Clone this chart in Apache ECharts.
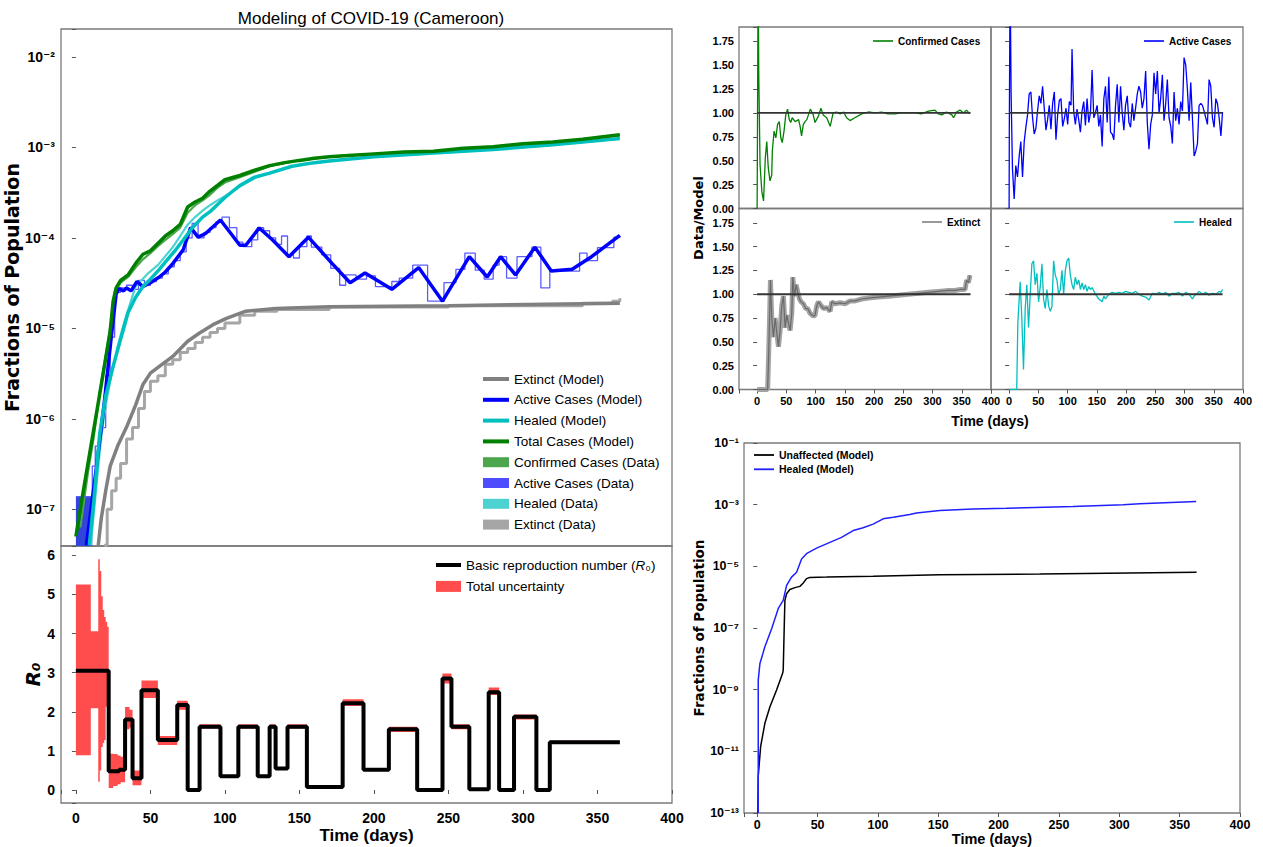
<!DOCTYPE html>
<html>
<head>
<meta charset="utf-8">
<script src="https://cdn.jsdelivr.net/npm/echarts@6.0.0/dist/echarts.min.js"></script>
<style>html,body{margin:0;padding:0;background:#fff}#c{width:1263px;height:847px}</style>
</head>
<body>
<div id="c"></div>
<script>
// ===================== DATA =====================
// --- Main panel: fractions of population (log scale) ---
const totalModelDays = [0,5,10,15,20,23,25,27,30,35,40,45,50,55,60,65,70,75,80,85,90,95,100,110,120,130,140,150,160,170,180,200,220,240,260,280,300,320,340,365];
const totalModelVals = [5.0e-8,1.6e-7,4.9e-7,1.5e-6,4.7e-6,9.3e-6,2.0e-5,2.8e-5,3.4e-5,3.9e-5,5.2e-5,6.6e-5,7.2e-5,8.7e-5,1.05e-4,1.2e-4,1.41e-4,2.2e-4,2.5e-4,2.75e-4,3.3e-4,3.8e-4,4.4e-4,4.9e-4,5.6e-4,6.3e-4,6.8e-4,7.2e-4,7.6e-4,7.9e-4,8.1e-4,8.5e-4,8.9e-4,9.1e-4,9.8e-4,1.02e-3,1.10e-3,1.15e-3,1.23e-3,1.38e-3];

const healedModelDays = [9,12,16,20,25,30,35,40,45,50,56,60,67,72,78,85,90,100,110,120,130,145,160,170,200,240,280,320,365];
const healedModelVals = [4.0e-8,1.23e-7,6.9e-7,1.8e-6,3.8e-6,7.6e-6,1.5e-5,2.2e-5,2.9e-5,3.5e-5,4.5e-5,5.4e-5,7.4e-5,9.5e-5,1.29e-4,1.7e-4,1.95e-4,2.8e-4,3.8e-4,4.7e-4,5.2e-4,6.2e-4,6.8e-4,7.1e-4,7.9e-4,8.7e-4,9.5e-4,1.07e-3,1.26e-3];

const activeModelDays = [7,10,14,19,24,27,29,32,34,37,41,45,50,56,60,65,72,77,82,87,97,104,110,114,123,132,143,156,172,184,194,212,230,246,264,276,285,295,308,319,333,346,365];
const activeModelVals = [4.0e-8,9.5e-8,3.1e-7,1.48e-6,8.9e-6,2.4e-5,2.75e-5,2.6e-5,2.8e-5,2.6e-5,3.3e-5,2.9e-5,3.2e-5,3.7e-5,4.2e-5,5.2e-5,7.4e-5,1.3e-4,1.02e-4,1.12e-4,1.58e-4,1.12e-4,8.3e-5,8.3e-5,1.29e-4,9.5e-5,6.2e-5,1.02e-4,5.2e-5,3.2e-5,4.1e-5,2.7e-5,4.7e-5,2.0e-5,6.2e-5,3.7e-5,6.2e-5,3.9e-5,7.9e-5,4.3e-5,4.5e-5,6.2e-5,1.07e-4];

const extinctModelDays = [15,17,20,23,28,34,40,45,50,56,65,75,83,92,101,114,134,170,250,365];
const extinctModelVals = [4.0e-8,7.9e-8,1.6e-7,3.0e-7,5.0e-7,8.1e-7,1.41e-6,2.4e-6,3.2e-6,3.8e-6,4.9e-6,7.2e-6,8.9e-6,1.1e-5,1.29e-5,1.55e-5,1.66e-5,1.74e-5,1.78e-5,1.9e-5];

const confirmedDataDays = [3,8,12,16,20,24,26,30,35,40,45,50,55,60,65,70,75,80,85,90,95,100,110,120,130,140,150,170,200,240,280,320,365];
const confirmedDataVals = [6.3e-8,2.5e-7,6.3e-7,2.0e-6,5.0e-6,1.3e-5,2.5e-5,3.2e-5,3.7e-5,4.7e-5,5.8e-5,6.8e-5,8.1e-5,9.5e-5,1.1e-4,1.3e-4,1.9e-4,2.3e-4,2.6e-4,3.0e-4,3.6e-4,4.1e-4,4.7e-4,5.4e-4,6.2e-4,6.7e-4,7.2e-4,7.9e-4,8.5e-4,9.1e-4,1.02e-3,1.15e-3,1.36e-3];

const healedDataDays = [10,14,17,20,24,28,32,36,40,44,48,55,60,65,70,75,80,85,90,95,100,110,120,130,145,170,200,240,280,320,365];
const healedDataVals = [4.0e-8,2.0e-7,6.3e-7,1.4e-6,3.2e-6,6.3e-6,1.1e-5,1.8e-5,2.9e-5,3.4e-5,4.0e-5,5.0e-5,6.3e-5,7.9e-5,1.05e-4,1.4e-4,1.7e-4,2.0e-4,2.3e-4,2.6e-4,2.9e-4,3.7e-4,4.6e-4,5.2e-4,6.2e-4,7.1e-4,7.9e-4,8.7e-4,9.5e-4,1.07e-3,1.25e-3];

const activeDataDays = [0,11,13,16,20,23,26,30,34,38,42,46,50,54,58,62,66,70,74,78,82,86,90,94,98,103,108,112,118,122,126,130,134,138,142,146,150,155,158,165,171,177,181,188,195,201,212,217,226,236,247,255,261,268,274,280,284,289,296,306,312,318,338,343,350,361,365];
const activeDataVals = [1.38e-7,3.0e-7,5.0e-7,8.0e-7,3.0e-6,8.0e-6,2.5e-5,2.8e-5,3.0e-5,2.7e-5,3.4e-5,3.0e-5,3.3e-5,3.6e-5,4.0e-5,4.8e-5,5.6e-5,7.0e-5,1.0e-4,1.45e-4,1.0e-4,1.15e-4,1.3e-4,1.5e-4,1.7e-4,1.3e-4,9.0e-5,8.0e-5,9.5e-5,1.3e-4,1.2e-4,1.0e-4,8.5e-5,1.05e-4,6.5e-5,6.0e-5,8.0e-5,1.05e-4,7.9e-5,6.5e-5,4.6e-5,3.0e-5,3.9e-5,3.5e-5,3.8e-5,2.9e-5,3.3e-5,3.6e-5,5.0e-5,2.0e-5,3.2e-5,4.5e-5,6.8e-5,4.4e-5,3.5e-5,5.0e-5,6.2e-5,3.6e-5,6.2e-5,7.9e-5,2.8e-5,4.3e-5,6.8e-5,5.6e-5,7.8e-5,1.02e-4,1.05e-4];
// early wide band of the active-cases data (drawn down to the axis)
const activeBlockDays = [0,11];
const activeBlockVals = [1.38e-7,1.38e-7];

const extinctDataDays = [19,21,24,27,30,34,38,42,46,50,55,60,65,70,75,80,85,90,95,100,110,120,135,170,250,340,360,365];
const extinctDataVals = [4.0e-8,1.0e-7,1.6e-7,2.2e-7,3.2e-7,6.0e-7,8.0e-7,1.3e-6,2.0e-6,2.6e-6,3.0e-6,4.0e-6,4.5e-6,5.4e-6,6.0e-6,7.0e-6,8.0e-6,9.0e-6,1.0e-5,1.15e-5,1.4e-5,1.55e-5,1.62e-5,1.72e-5,1.78e-5,1.9e-5,2.0e-5,2.15e-5];

// --- R0 panel ---
const r0StartDays = [0,22,29,33,38,44,55,68,75,83,97,109,122,130,134,142,155,179,193,210,229,246,252,264,277,284,294,309,318,365];
const r0Levels    = [3.05,0.48,0.52,1.80,0.30,2.55,1.28,2.17,0.0,1.62,0.35,1.62,0.35,1.62,0.55,1.62,0.08,2.22,0.52,1.55,0.0,2.85,1.62,0.02,2.50,0.0,1.87,0.0,1.22,1.22];
const bandDays = [0,10,15,16,17,18,19,20,21,22,25,28,30,33,36,38,44,55,68,75,83,97,109,122,130,134,142,155,179,193,210,229,246,252,264,277,284,294,309,318,365];
const bandLow  = [0.89,2.09,0.21,0.5,1.1,1.2,1.28,2.13,2.3,0.05,0.1,0.15,0.2,1.55,1.6,0.12,2.35,1.15,2.05,-0.04,1.57,0.32,1.57,0.32,1.57,0.52,1.57,0.06,2.15,0.49,1.48,-0.02,2.72,1.55,-0.01,2.43,-0.02,1.80,-0.02,1.19,1.19];
const bandHigh = [5.25,4.06,5.90,5.6,4.95,4.6,4.42,4.3,4.17,0.93,0.92,0.88,0.85,2.12,2.05,0.5,2.8,1.38,2.28,0.04,1.68,0.38,1.68,0.38,1.68,0.58,1.68,0.1,2.32,0.55,1.62,0.02,2.98,1.68,0.04,2.62,0.02,1.93,0.02,1.26,1.26];

// --- Data/Model ratio panels ---
const refDays = [0,365];
const refVals = [1,1];
const confirmedRatioDays = [0,0.6,1.7,2.8,5,8,11,14,16.5,19,22,25,26,29,32,35,38,40.5,43,46,49,52,55,57.5,60,65,71,73.5,76,79,82,85,91,96,99,105,109,113,119,125,130,136,142,148,153,159,167,179,190,202,213,224,236,247,259,270,281,293,304,310,316,324,333,336,341,347,353,358,364];
const confirmedRatioVals = [0,0.81,2.5,1.4,0.46,0.18,0.08,0.53,0.70,0.43,0.29,0.35,0.60,0.81,0.74,0.88,0.91,0.74,0.69,0.81,0.98,1.04,0.93,0.90,0.95,0.91,0.93,0.86,0.76,0.88,0.91,0.93,1.04,0.98,0.90,0.97,1.05,0.98,0.95,0.86,1.00,1.01,0.99,1.01,0.95,0.92,0.95,0.99,1.01,1.00,1.01,0.99,0.99,1.00,1.00,1.00,0.99,1.02,1.03,0.99,0.98,1.01,0.98,0.95,1.01,1.03,1.00,1.03,0.99];

const activeRatioDays = [0,0.3,1.7,3.4,5.7,8.6,11.4,14.3,17.2,20,22.9,25.8,28.6,31.5,34.3,37.2,40.1,42.9,45.8,48.6,51.5,54.4,57.2,60.1,63,65.8,68.7,71.5,74.4,77.3,80.1,83,85.8,88.7,91.6,94.4,97.3,100.1,103,105.9,107.6,110.4,113.3,116.2,119,121.9,124.7,127.6,130.5,133.3,136.2,139.1,141.9,144.8,147.6,150.5,153.4,156.2,159.1,162,164.8,167.7,170.5,173.4,176.3,179.1,182,184.8,187.7,190.6,193.4,196.3,199.1,202,204.9,207.7,210.6,213.4,216.3,219.2,222,224.9,227.7,230.6,233.5,236.3,239.2,242.1,244.9,247.8,250.6,253.5,256.4,259.2,262.1,264.9,267.8,270.6,273.5,276.4,279.2,282.1,284.9,287.8,290.6,293.5,296.4,299.2,302.1,304.9,307.8,310.6,313.5,316.4,319.2,322.1,324.9,327.8,330.6,333.5,336.3,339.2,342,344.9,347.7,350.6,353.5,356.3,359.2,362.2,365];
const activeRatioVals = [0,0.81,2.5,1.2,0.42,0.10,0.45,0.33,0.55,0.70,0.33,0.7,0.85,0.98,1.20,1.22,0.95,0.78,0.84,1.02,1.18,1.1,1.28,1.05,0.82,0.93,1.08,0.83,1.1,1.22,0.72,0.98,1.13,1.15,0.86,0.94,1.05,0.88,1.12,1.08,1.67,1.02,0.88,1.04,0.93,0.80,1.02,1.12,0.87,1.15,0.9,1.0,1.45,0.95,1.0,1.08,0.86,0.98,0.65,1.15,1.28,0.9,1.38,0.8,0.78,0.72,1.08,1.30,0.90,1.28,1.0,0.82,1.08,1.18,0.9,0.85,1.1,0.92,1.05,1.2,1.28,1.22,1.05,1.15,1.44,0.9,0.62,0.88,0.98,1.42,1.2,1.44,1.0,1.15,1.4,0.92,1.1,1.35,0.95,0.86,0.68,1.22,0.92,1.05,0.88,1.12,1.02,1.58,1.5,1.25,0.92,1.32,0.95,0.55,0.60,0.68,1.08,1.10,1.08,1.02,0.95,0.88,1.35,1.28,0.95,0.85,1.15,1.1,0.95,0.76,1.01];

const extinctRatioDays = [0,18,19.4,21,22.8,25,27.9,30.8,33.6,36.5,39.3,42.2,45,47.9,50.7,53.6,56.4,59.3,61,63.8,66.7,69.5,72.4,75.2,79.2,83.2,86.6,90.6,96.3,99.1,102,104.8,109.4,113.4,119.1,124.8,127.6,133.3,141.9,150.4,159,167.5,178.9,190.3,207.4,224.5,241.6,258.7,275.8,292.9,310,327.1,338.5,347,355.6,358.4,361.3,364.1];
const extinctRatioVals = [0,0,0.3,0.68,1.15,0.75,0.55,0.75,0.6,0.45,0.62,0.88,0.98,0.65,0.78,0.70,0.62,0.8,1.18,0.98,1.10,1.02,0.95,0.92,0.9,0.85,0.85,0.80,0.77,0.78,0.88,0.92,0.88,0.85,0.86,0.82,0.92,0.90,0.91,0.90,0.93,0.93,0.95,0.96,0.97,0.98,0.99,1.00,1.01,1.02,1.03,1.04,1.04,1.05,1.05,1.15,1.12,1.20];

const healedRatioDays = [0,13,14.9,18.9,21.7,24.6,27.5,30.3,33.2,36.1,38.9,41.8,44.6,47.5,50.4,53.2,56.1,58.9,61.8,64.7,67.5,70.4,73.2,76.1,78.9,81.8,84.6,87.5,90.3,93.2,96.1,98.9,101.9,104.7,107.6,110.4,113.3,116.2,119,121.9,124.7,127.6,130.5,133.3,136.2,139,141.9,147.6,153.4,159.1,162,164.8,170.5,176.3,182,187.7,193.4,199.1,204.9,210.6,216.3,222,227.7,233.5,239.2,244.9,250.6,256.4,262.1,267.8,273.5,279.2,284.9,290.6,296.4,302.1,307.8,313.5,316.4,324.9,330.6,336.3,342,347.7,353.5,359.2,362.2,365];
const healedRatioVals = [0,0,0.7,1.13,0.75,0.21,0.85,1.1,0.65,1.0,1.32,1.35,1.1,1.22,0.92,1.08,1.32,0.95,0.85,1.05,0.88,0.82,0.87,1.35,1.2,1.15,1.0,1.05,1.25,1.0,1.25,1.35,1.38,1.2,1.1,1.05,1.18,1.1,1.15,1.05,1.12,1.05,1.1,1.03,1.08,1.05,1.07,1.0,0.95,0.92,0.98,0.95,1.0,1.02,1.01,1.02,1.01,1.03,1.02,1.01,1.03,1.0,0.98,0.97,0.94,1.01,1.0,1.02,1.0,1.02,0.98,1.01,1.01,1.02,0.98,1.02,1.0,0.95,0.98,1.03,1.0,1.02,0.99,1.01,1.0,1.03,1.02,1.05];

// --- Bottom-right panel (log scale) ---
const unaffectedDays = [0.5,0.8,2.8,6.3,10.5,16,21,21.5,22.4,22.9,24.3,27,31.2,35.3,38.1,40.8,43.6,57.4,96,151,234,364];
const unaffectedVals = [1e-13,1.55e-12,1.45e-11,8.1e-11,2.8e-10,9.8e-10,3.4e-9,4.3e-9,1.38e-7,7.9e-7,1.29e-6,1.78e-6,2.04e-6,2.24e-6,2.88e-6,3.98e-6,4.37e-6,4.47e-6,4.79e-6,5.37e-6,5.62e-6,6.46e-6];
const healedBRDays = [0.8,0.8,2.2,6.3,11.9,17.4,21.5,24.3,28.4,32.6,36.7,40.8,49.1,60.2,69.8,79.5,87.7,96,104.3,112.6,126.4,131.9,151.2,178.8,206.4,261.6,303,316.8,363.7];
const healedBRVals = [1e-13,2.04e-9,7.1e-9,2.45e-8,9.5e-8,4.3e-7,7.9e-7,2.4e-6,4.47e-6,6.46e-6,1.74e-5,2.57e-5,3.9e-5,6.0e-5,8.7e-5,1.45e-4,1.78e-4,2.34e-4,3.47e-4,3.9e-4,4.8e-4,5.4e-4,6.5e-4,7.2e-4,7.6e-4,8.7e-4,1.0e-3,1.07e-3,1.26e-3];

// ===================== HELPERS =====================
const FONT = "'Liberation Sans', Arial, 'DejaVu Sans', sans-serif";
const FONT_DV = "'DejaVu Sans', sans-serif";
const zip = (xs, ys) => xs.map((x, i) => [x, ys[i]]);
const zipLog = (xs, ys) => xs.map((x, i) => [x, Math.log10(ys[i])]);   // bottom-right panel uses an exponent axis
const SUP = {'-':'\u207B','0':'\u2070','1':'\u00B9','2':'\u00B2','3':'\u00B3','4':'\u2074','5':'\u2075','6':'\u2076','7':'\u2077','8':'\u2078','9':'\u2079'};
const pow10 = e => '10' + String(e).split('').map(c => SUP[c]).join('');
const logFmt = v => { const e = Math.log10(v); const r = Math.round(e); return Math.abs(e - r) < 1e-6 ? pow10(r) : ''; };
const xFmt = v => (v >= 0 && Math.abs(v % 50) < 1e-9) ? String(v) : '';
const ratioFmt = v => (v <= 1.76 ? v.toFixed(2) : '');
const intFmt = v => (Math.abs(v - Math.round(v)) < 1e-9 ? String(Math.round(v)) : '');

const tick = {show: true, inside: false, length: 4, lineStyle: {color: '#555', width: 1}};
const noTick = {show: false};
const lbl = (size, extra) => Object.assign({show: true, color: '#000', fontFamily: FONT, fontWeight: 'bold', fontSize: size}, extra || {});
const bareAxis = {axisLine: {show: false}, splitLine: {show: false}};

const COL = {
  extinct: '#808080', active: '#0000ff', healed: '#00bfbf', total: '#008000',
  dConfirmed: '#4da64d', dActive: '#5c5cff', dHealed: '#4dd2d2', dExtinct: '#a6a6a6',
  band: '#ff4d4d', brHealed: '#1f1fff'
};

function line(name, idx, data, color, width, extra) {
  return Object.assign({
    type: 'line', name: name, xAxisIndex: idx, yAxisIndex: idx, data: data,
    symbol: 'none', showSymbol: false, animation: false, silent: true,
    lineStyle: {color: color, width: width}, itemStyle: {color: color}, z: 3
  }, extra || {});
}

const gridBase = {show: true, borderColor: '#7a7a7a', borderWidth: 1.3, backgroundColor: 'transparent', containLabel: false, outerBoundsMode: 'none'};
const grids = [
  {left: 61, top: 29, width: 611, height: 517},
  {left: 61, top: 546, width: 611, height: 257},
  {left: 739, top: 27, width: 252, height: 181.5},
  {left: 991, top: 27, width: 252, height: 181.5},
  {left: 739, top: 208.5, width: 252, height: 181},
  {left: 991, top: 208.5, width: 252, height: 181},
  {left: 744, top: 443, width: 496, height: 370}
].map(g => Object.assign({}, gridBase, g));

const lineIcon = (w, h) => 'path://M0,0H' + w + 'V' + h + 'H0Z';

// band segments for the R0 uncertainty: [start day, end day, low, high]
const bandSegments = bandDays.slice(0, -1).map((d, i) => [d, bandDays[i + 1], bandLow[i], bandHigh[i]]);

const option = {
  animation: false,
  backgroundColor: '#fff',
  title: {
    text: 'Modeling of COVID-19 (Cameroon)', left: 366, top: 5, textAlign: 'center',
    textStyle: {fontFamily: FONT, fontWeight: 'normal', fontSize: 17, color: '#000'}
  },
  grid: grids,
  xAxis: [
    Object.assign({gridIndex: 0, type: 'value', min: -10, max: 400, splitNumber: 8, axisTick: noTick, axisLabel: {show: false}}, bareAxis),
    Object.assign({gridIndex: 1, type: 'value', min: -10, max: 400, splitNumber: 8, axisTick: tick,
      axisLabel: lbl(14, {margin: 8, formatter: xFmt}),
      name: 'Time (days)', nameLocation: 'middle', nameGap: 24,
      nameTextStyle: {fontFamily: FONT, fontWeight: 'bold', fontSize: 17, color: '#000'}}, bareAxis),
    Object.assign({gridIndex: 2, type: 'value', min: -31, max: 400, splitNumber: 8, axisTick: noTick, axisLabel: {show: false}}, bareAxis),
    Object.assign({gridIndex: 3, type: 'value', min: -31, max: 400, splitNumber: 8, axisTick: noTick, axisLabel: {show: false}}, bareAxis),
    Object.assign({gridIndex: 4, type: 'value', min: -31, max: 400, splitNumber: 8, axisTick: tick, axisLabel: lbl(11, {margin: 6, formatter: xFmt})}, bareAxis),
    Object.assign({gridIndex: 5, type: 'value', min: -31, max: 400, splitNumber: 8, axisTick: tick, axisLabel: lbl(11, {margin: 6, formatter: xFmt})}, bareAxis),
    Object.assign({gridIndex: 6, type: 'value', min: -11, max: 400, splitNumber: 8, axisTick: tick,
      axisLabel: lbl(12.5, {margin: 5, formatter: xFmt}),
      name: 'Time (days)', nameLocation: 'middle', nameGap: 14,
      nameTextStyle: {fontFamily: FONT, fontWeight: 'bold', fontSize: 14.5, color: '#000'}}, bareAxis)
  ],
  yAxis: [
    Object.assign({gridIndex: 0, type: 'log', logBase: 10, min: 3.926e-8, max: 0.02042, axisTick: tick,
      axisLabel: lbl(14, {margin: 6, formatter: logFmt}),
      name: 'Fractions of Population', nameLocation: 'middle', nameRotate: 90, nameGap: 29,
      nameTextStyle: {fontFamily: FONT_DV, fontWeight: 'bold', fontSize: 19, color: '#000'}}, bareAxis),
    Object.assign({gridIndex: 1, type: 'value', min: -0.332, max: 6.237, splitNumber: 6, axisTick: tick,
      axisLabel: lbl(14, {margin: 6, formatter: intFmt}),
      name: 'R\u2080', nameLocation: 'middle', nameRotate: 90, nameGap: 18,
      nameTextStyle: {fontFamily: FONT_DV, fontWeight: 'bold', fontStyle: 'italic', fontSize: 20, color: '#000'}}, bareAxis),
    Object.assign({gridIndex: 2, type: 'value', min: 0, max: 1.9, interval: 0.25, axisTick: tick, axisLabel: lbl(11, {margin: 5, formatter: ratioFmt})}, bareAxis),
    Object.assign({gridIndex: 3, type: 'value', min: 0, max: 1.9, interval: 0.25, axisTick: tick, axisLabel: {show: false}}, bareAxis),
    Object.assign({gridIndex: 4, type: 'value', min: 0, max: 1.9, interval: 0.25, axisTick: tick, axisLabel: lbl(11, {margin: 5, formatter: ratioFmt})}, bareAxis),
    Object.assign({gridIndex: 5, type: 'value', min: 0, max: 1.9, interval: 0.25, axisTick: tick, axisLabel: {show: false}}, bareAxis),
    Object.assign({gridIndex: 6, type: 'value', min: -13, max: -1, interval: 2, axisTick: tick,
      axisLabel: lbl(12.5, {margin: 5, formatter: v => pow10(Math.round(v))}),
      name: 'Fractions of Population', nameLocation: 'middle', nameRotate: 90, nameGap: 38,
      nameTextStyle: {fontFamily: FONT_DV, fontWeight: 'bold', fontSize: 13.5, color: '#000'}}, bareAxis)
  ],
  legend: [
    {
      left: 483, top: 372, orient: 'vertical', padding: 0, itemWidth: 26, itemHeight: 10, itemGap: 6.8, selectedMode: false,
      textStyle: {fontFamily: FONT, fontSize: 13.5, color: '#000', lineHeight: 14},
      data: [
        {name: 'Extinct (Model)', icon: lineIcon(26, 4)},
        {name: 'Active Cases (Model)', icon: lineIcon(26, 4)},
        {name: 'Healed (Model)', icon: lineIcon(26, 4)},
        {name: 'Total Cases (Model)', icon: lineIcon(26, 4)},
        {name: 'Confirmed Cases (Data)', icon: 'rect'},
        {name: 'Active Cases (Data)', icon: 'rect', itemStyle: {color: '#4d4dff'}},
        {name: 'Healed (Data)', icon: 'rect'},
        {name: 'Extinct (Data)', icon: 'rect'}
      ]
    },
    {
      left: 436, top: 558, orient: 'vertical', padding: 0, itemWidth: 25, itemHeight: 11, itemGap: 7.4, selectedMode: false,
      textStyle: {fontFamily: FONT, fontSize: 13.5, color: '#000', lineHeight: 14,
        rich: {n: {fontFamily: FONT, fontSize: 13.5, color: '#000'}, i: {fontFamily: FONT, fontSize: 13.5, fontStyle: 'italic', color: '#000'}}},
      formatter: n => n.indexOf('Basic') === 0 ? '{n|Basic reproduction number (}{i|R}{n|\u2080)}' : '{n|' + n + '}',
      data: [
        {name: 'Basic reproduction number (R\u2080)', icon: lineIcon(25, 4)},
        {name: 'Total uncertainty', icon: 'rect', itemStyle: {color: COL.band}}
      ]
    },
    {left: 873, top: 36, padding: 0, itemWidth: 20, itemHeight: 10, selectedMode: false,
      textStyle: {fontFamily: FONT, fontWeight: 'bold', fontSize: 10, color: '#000'},
      data: [{name: 'Confirmed Cases', icon: lineIcon(20, 1.6)}]},
    {left: 1144, top: 36, padding: 0, itemWidth: 20, itemHeight: 10, selectedMode: false,
      textStyle: {fontFamily: FONT, fontWeight: 'bold', fontSize: 10, color: '#000'},
      data: [{name: 'Active Cases', icon: lineIcon(20, 1.6)}]},
    {left: 922, top: 217, padding: 0, itemWidth: 20, itemHeight: 10, selectedMode: false,
      textStyle: {fontFamily: FONT, fontWeight: 'bold', fontSize: 10, color: '#000'},
      data: [{name: 'Extinct', icon: lineIcon(20, 1.6)}]},
    {left: 1174, top: 217, padding: 0, itemWidth: 20, itemHeight: 10, selectedMode: false,
      textStyle: {fontFamily: FONT, fontWeight: 'bold', fontSize: 10, color: '#000'},
      data: [{name: 'Healed', icon: lineIcon(20, 1.6)}]},
    {left: 754, top: 449.5, orient: 'vertical', padding: 0, itemWidth: 20, itemHeight: 10, itemGap: 3.3, selectedMode: false,
      textStyle: {fontFamily: FONT, fontWeight: 'bold', fontSize: 10.5, color: '#000'},
      data: [
        {name: 'Unaffected (Model)', icon: lineIcon(20, 1.8)},
        {name: 'Healed (Model)', icon: lineIcon(20, 1.8), itemStyle: {color: COL.brHealed}}
      ]}
  ],
  graphic: [
    {type: 'text', x: 698, y: 218, rotation: Math.PI / 2,
      style: {text: 'Data/Model', fontFamily: FONT_DV, fontWeight: 'bold', fontSize: 13, fill: '#000', align: 'center', verticalAlign: 'middle'}},
    {type: 'text', x: 990, y: 421,
      style: {text: 'Time (days)', fontFamily: FONT, fontWeight: 'bold', fontSize: 14, fill: '#000', align: 'center', verticalAlign: 'middle'}}
  ],
  series: [
    // ---- main panel: data (below) ----
    line('Confirmed Cases (Data)', 0, zip(confirmedDataDays, confirmedDataVals), COL.dConfirmed, 2.2, {z: 2}),
    line('Active Cases (Data)', 0, zip(activeBlockDays, activeBlockVals), '#3344dd', 0,
      {step: 'end', z: 2, areaStyle: {color: '#3344dd', opacity: 1, origin: 'start'}}),
    line('Active Cases (Data)', 0, zip(activeDataDays, activeDataVals), COL.dActive, 1.3, {step: 'end', z: 2}),
    line('Healed (Data)', 0, zip(healedDataDays, healedDataVals), COL.dHealed, 2.2, {z: 2}),
    line('Extinct (Data)', 0, zip(extinctDataDays, extinctDataVals), COL.dExtinct, 3, {step: 'end', z: 2}),
    // ---- main panel: model ----
    line('Extinct (Model)', 0, zip(extinctModelDays, extinctModelVals), COL.extinct, 3.5),
    line('Active Cases (Model)', 0, zip(activeModelDays, activeModelVals), COL.active, 3.5),
    line('Healed (Model)', 0, zip(healedModelDays, healedModelVals), COL.healed, 3.5),
    line('Total Cases (Model)', 0, zip(totalModelDays, totalModelVals), COL.total, 3.5),
    // ---- R0 panel: uncertainty band as one step polygon ----
    {
      type: 'custom', name: 'Total uncertainty', xAxisIndex: 1, yAxisIndex: 1, z: 2, silent: true, animation: false,
      itemStyle: {color: COL.band},
      data: bandSegments,
      encode: {x: [0, 1], y: [2, 3]},
      renderItem: (params, api) => {
        if (params.dataIndex !== 0) return null;
        const up = [], lo = [];
        bandSegments.forEach(s => {
          up.push(api.coord([s[0], s[3]]), api.coord([s[1], s[3]]));
          lo.push(api.coord([s[0], s[2]]), api.coord([s[1], s[2]]));
        });
        const pts = up.concat(lo.reverse());
        return {type: 'polygon', shape: {points: pts}, style: {fill: COL.band}};
      }
    },
    line('Basic reproduction number (R\u2080)', 1, zip(r0StartDays, r0Levels), '#000', 4, {step: 'end', z: 4}),
    // ---- ratio panels ----
    line('Confirmed Cases', 2, zip(confirmedRatioDays, confirmedRatioVals), COL.total, 1.3),
    line('__ref2', 2, zip(refDays, refVals), '#333', 1.8, {z: 5}),
    line('Active Cases', 3, zip(activeRatioDays, activeRatioVals), COL.active, 1.3),
    line('__ref3', 3, zip(refDays, refVals), '#333', 1.8, {z: 5}),
    line('__extBand', 4, zip(extinctRatioDays, extinctRatioVals), '#a3a3a3', 5, {z: 2}),
    line('Extinct', 4, zip(extinctRatioDays, extinctRatioVals), COL.extinct, 1.2, {lineStyle: {color: '#6a6a6a', width: 1.2}}),
    line('__ref4', 4, zip(refDays, refVals), '#333', 1.8, {z: 5}),
    line('Healed', 5, zip(healedRatioDays, healedRatioVals), COL.healed, 1.3),
    line('__ref5', 5, zip(refDays, refVals), '#333', 1.8, {z: 5}),
    // ---- bottom-right panel ----
    line('Unaffected (Model)', 6, zipLog(unaffectedDays, unaffectedVals), '#000', 1.5),
    line('Healed (Model)', 6, zipLog(healedBRDays, healedBRVals), COL.brHealed, 1.5)
  ]
};

const chart = echarts.init(document.getElementById('c'), null, {renderer: 'svg'});
chart.setOption(option);
</script>
</body>
</html>
